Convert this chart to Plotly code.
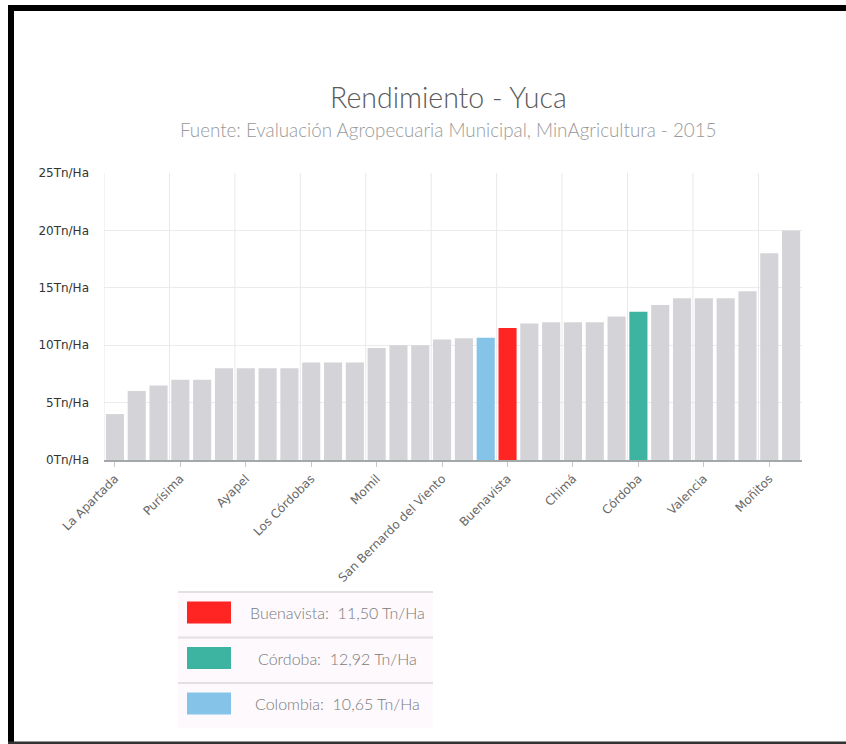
import plotly.graph_objects as go

# ---- data ----
# Names of unlabeled bars are not visible in the chart; the remaining municipalities
# of Córdoba are placed in those slots in alphabetical order.
categories = [
    "La Apartada", "Canalete", "Cereté", "Purísima", "Chinú", "Ciénaga de Oro",
    "Ayapel", "Cotorra", "Lorica", "Los Córdobas", "Montelíbano", "Montería",
    "Momil", "Planeta Rica", "Pueblo Nuevo", "San Bernardo del Viento",
    "Puerto Escondido", "Colombia", "Buenavista", "Puerto Libertador", "Sahagún",
    "Chimá", "San Andrés de Sotavento", "San Antero", "Córdoba", "San Carlos",
    "San José de Uré", "Valencia", "San Pelayo", "Tierralta", "Moñitos", "Tuchín",
]
values = [
    4.0, 6.0, 6.5, 7.0, 7.0, 8.0,
    8.0, 8.0, 8.0, 8.5, 8.5, 8.5,
    9.75, 10.0, 10.0, 10.5,
    10.6, 10.65, 11.5, 11.9, 12.0,
    12.0, 12.0, 12.5, 12.92, 13.5,
    14.1, 14.1, 14.1, 14.7, 18.0, 20.0,
]
tick_labels = ["La Apartada", "Purísima", "Ayapel", "Los Córdobas", "Momil",
               "San Bernardo del Viento", "Buenavista", "Chimá", "Córdoba",
               "Valencia", "Moñitos"]
y_ticks = [0, 5, 10, 15, 20, 25]
legend_names = ["Buenavista", "Córdoba", "Colombia"]
legend_values = ["11,50", "12,92", "10,65"]

# ---- styles ----
BASE = "#d4d3d7"
highlight = {"Buenavista": "#fe2522", "Córdoba": "#3db3a1", "Colombia": "#85c4e8"}
bar_colors = [highlight.get(c, BASE) for c in categories]

W, H = 846, 744
L, R, T, B = 104, 802, 173, 460   # plot area in pixels


def px(x):
    return (x - L) / (R - L)


def py(y):
    return (B - y) / (B - T)


fig = go.Figure()
fig.add_trace(go.Bar(
    x=categories, y=values,
    marker=dict(color=bar_colors, line=dict(width=0)),
    hoverinfo="x+y",
))

shapes = []
# vertical grid lines between groups of three categories
for k in range(-1, 30, 3):
    shapes.append(dict(type="line", xref="x", yref="paper", x0=k + 0.5, x1=k + 0.5,
                       y0=0, y1=1, line=dict(color="#e8e8ea", width=1), layer="below"))

# legend box
shapes.append(dict(type="rect", xref="paper", yref="paper",
                   x0=px(178), x1=px(433), y0=py(728), y1=py(592),
                   fillcolor="#fdf9fd", line=dict(width=0), layer="below"))
for yl in [592, 637.5, 683]:
    shapes.append(dict(type="line", xref="paper", yref="paper",
                       x0=px(178), x1=px(433), y0=py(yl), y1=py(yl),
                       line=dict(color="#e2e0e3", width=2)))
row_centers = [612.5, 658, 703.5]
annotations = []
for name, val, yc in zip(legend_names, legend_values, row_centers):
    shapes.append(dict(type="rect", xref="paper", yref="paper",
                       x0=px(187), x1=px(231), y0=py(yc + 11), y1=py(yc - 11),
                       fillcolor=highlight[name], line=dict(width=0)))
    annotations.append(dict(xref="paper", yref="paper", x=px(337), y=py(yc),
                            text=f"{name}:&nbsp;&nbsp;{val} Tn/Ha", showarrow=False,
                            xanchor="center", yanchor="middle",
                            font=dict(family="Lato", size=16, color="#7a7a7a", weight=300)))

# frame
shapes.append(dict(type="rect", xref="paper", yref="paper",
                   x0=px(8), x1=px(14), y0=py(744), y1=py(5),
                   fillcolor="#000000", line=dict(width=0)))
shapes.append(dict(type="rect", xref="paper", yref="paper",
                   x0=px(8), x1=px(846), y0=py(11), y1=py(5),
                   fillcolor="#000000", line=dict(width=0)))
shapes.append(dict(type="rect", xref="paper", yref="paper",
                   x0=px(8), x1=px(846), y0=py(744), y1=py(741.5),
                   fillcolor="#333333", line=dict(width=0)))

# title & subtitle
annotations.append(dict(xref="paper", yref="paper", x=px(448), y=py(97),
                        text="Rendimiento - Yuca", showarrow=False,
                        xanchor="center", yanchor="middle",
                        font=dict(family="Lato", size=28.5, color="#5a5a5a", weight=300)))
annotations.append(dict(xref="paper", yref="paper", x=px(448), y=py(130),
                        text="Fuente: Evaluación Agropecuaria Municipal, MinAgricultura - 2015",
                        showarrow=False, xanchor="center", yanchor="middle",
                        font=dict(family="Lato", size=18.8, color="#999999", weight=300)))

fig.update_layout(
    width=W, height=H,
    margin=dict(l=L, r=W - R, t=T, b=H - B, pad=0),
    paper_bgcolor="white", plot_bgcolor="white",
    showlegend=False, bargap=0.17,
    shapes=shapes, annotations=annotations,
    xaxis=dict(type="category", categoryorder="array", categoryarray=categories,
               tickmode="array", tickvals=tick_labels, ticktext=tick_labels,
               tickangle=-45, ticks="outside", ticklen=5, tickcolor="#c8c8c8",
               tickfont=dict(family="DejaVu Sans", size=12, color="#666666"),
               showgrid=False, showline=True, linecolor="#a3a8ab", linewidth=2,
               range=[-0.5, len(categories) - 0.5], fixedrange=True),
    yaxis=dict(range=[0, 25], tickmode="array", tickvals=y_ticks,
               ticktext=[f"{v}Tn/Ha" for v in y_ticks],
               tickfont=dict(family="DejaVu Sans", size=12, color="#333333"),
               showgrid=True, gridcolor="#ebebeb", gridwidth=1, zeroline=False,
               ticks="", ticklabelstandoff=14, fixedrange=True),
)

fig.write_html("out.html", config={"displayModeBar": False},
               post_script="document.body.style.margin='0';document.body.style.overflow='hidden';")
